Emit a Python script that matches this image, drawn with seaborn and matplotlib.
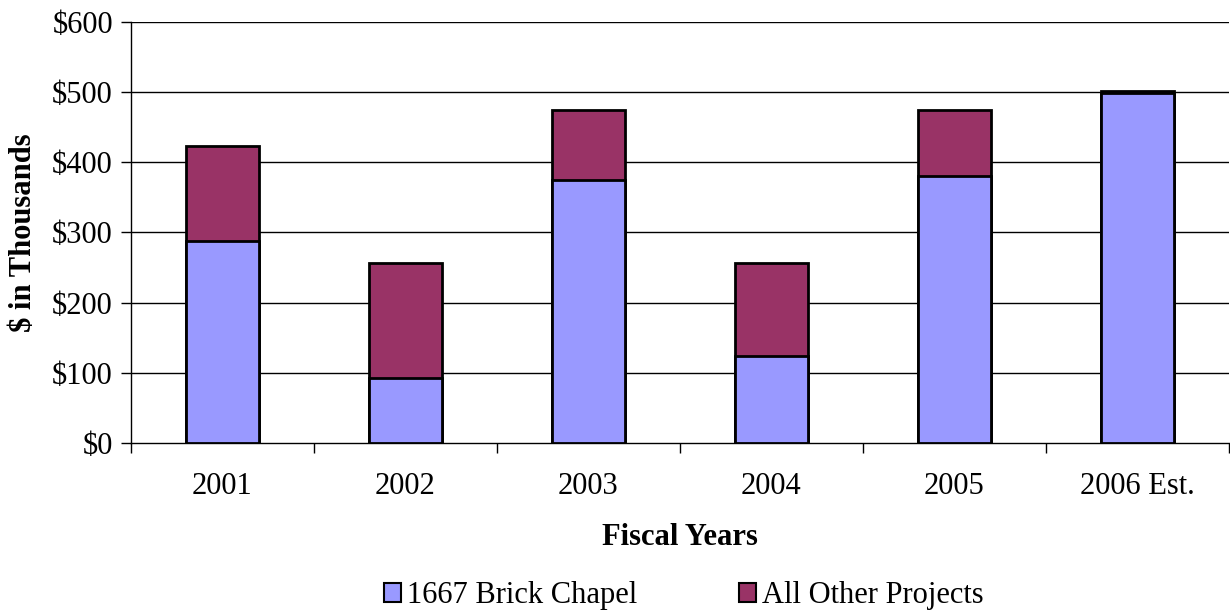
import matplotlib
matplotlib.use("Agg")
import matplotlib.pyplot as plt
import seaborn as sns
import pandas as pd
import numpy as np
from matplotlib.patches import Patch

years = ["2001", "2002", "2003", "2004", "2005", "2006 Est."]
brick_chapel = [288, 93, 375, 124, 381, 499]
other_projects = [135, 164, 100, 133, 94, 2]
series_names = ["1667 Brick Chapel", "All Other Projects"]
colors = ["#9999FF", "#993366"]
yticks = [0, 100, 200, 300, 400, 500, 600]

sns.set_theme(style="white")
plt.rcParams['font.family'] = ['Liberation Serif', 'DejaVu Serif']
plt.rcParams['text.color'] = 'black'
plt.rcParams['axes.labelcolor'] = 'black'
plt.rcParams['xtick.color'] = 'black'
plt.rcParams['ytick.color'] = 'black'

totals = [a + b for a, b in zip(brick_chapel, other_projects)]
df = pd.DataFrame({"year": years, "brick": brick_chapel, "total": totals})

fig = plt.figure(figsize=(12.3, 6.11), dpi=100)
ax = fig.add_axes([0.1065, 0.275, 0.8925, 0.689])

ax.grid(False)
for t in yticks[1:]:
    ax.axhline(t, color="black", lw=1, zorder=0)

sns.barplot(data=df, x="year", y="total", color=colors[1], width=0.4,
            edgecolor="black", linewidth=2, ax=ax, saturation=1, zorder=2)
sns.barplot(data=df, x="year", y="brick", color=colors[0], width=0.4,
            edgecolor="black", linewidth=2, ax=ax, saturation=1, zorder=3)

fs = 22
ax.set_xlim(-0.5, len(years) - 0.5)
ax.set_ylim(0, 600)
ax.set_yticks(yticks)
ax.set_yticklabels([f"${v}" for v in yticks], fontsize=fs)
ax.set_xticks(range(len(years)))
ax.set_xticklabels(years, fontsize=fs)
ax.tick_params(axis="x", length=0, pad=21)
ax.set_xticks(np.arange(-0.5, len(years), 1.0), minor=True)
ax.tick_params(axis="x", which="minor", length=7, width=1, color="black", direction="out", bottom=True)
ax.tick_params(axis="y", length=7, width=1, color="black", direction="out", left=True, pad=6)

for s in ["top", "right"]:
    ax.spines[s].set_visible(False)
for s in ["left", "bottom"]:
    ax.spines[s].set_color("black")
    ax.spines[s].set_linewidth(1)

ax.set_xlabel("Fiscal Years", fontsize=fs, fontweight="bold", labelpad=16)
ax.set_ylabel("$ in Thousands", fontsize=fs, fontweight="bold", labelpad=10)

handles = [Patch(facecolor=c, edgecolor="black", linewidth=1.5, label=n) for c, n in zip(colors, series_names)]
fig.legend(handles=handles, loc="center", bbox_to_anchor=(0.556, 0.025), ncol=2,
           frameon=False, fontsize=fs, handlelength=0.55, handleheight=0.55,
           handletextpad=0.2, columnspacing=3.35, borderpad=0)

fig.savefig("out.png", dpi=100)
